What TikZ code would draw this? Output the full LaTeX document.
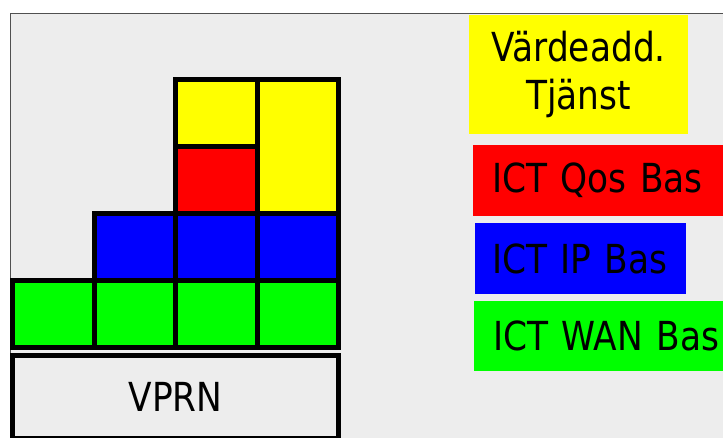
\documentclass[tikz,border=0pt]{standalone}
\usepackage{fontspec}
\setmainfont{DejaVu Sans}[FakeStretch=0.86]
\usetikzlibrary{positioning}
\definecolor{panelbg}{HTML}{EDEDED}
\definecolor{kant}{HTML}{505050}
\definecolor{gul}{HTML}{FFFF00}
\definecolor{rod}{HTML}{FF0000}
\definecolor{bla}{HTML}{0000FF}
\definecolor{gron}{HTML}{00FF00}
\tikzset{
  cell/.style={rectangle, draw=black, line width=5pt, fill=#1, outer sep=0pt, inner sep=0pt,
               minimum width=81.5pt, minimum height=67pt},
  legend/.style={rectangle, fill=#1, anchor=north west, inner xsep=19pt, inner ysep=0pt,
                 align=left, minimum height=71pt, font=\fontsize{40}{48}\selectfont},
}

\begin{document}
\begin{tikzpicture}[x=1pt, y=-1pt]
    \useasboundingbox (0,0) rectangle (723,437);
    \clip (0,0) rectangle (723,437);
    \draw[kant, fill=panelbg, line width=1pt] (10,13.5) rectangle (740,450);
    % stapeln
    \node[cell=gron] (g1) at (53.25,314.25) {};
    \node[cell=gron, right=0pt of g1] (g2) {};
    \node[cell=gron, right=0pt of g2] (g3) {};
    \node[cell=gron, right=0pt of g3] (g4) {};
    \node[cell=bla, above=0pt of g2] (b2) {};
    \node[cell=bla, above=0pt of g3] (b3) {};
    \node[cell=bla, above=0pt of g4] (b4) {};
    \node[cell=rod, above=0pt of b3] (r3) {};
    \node[cell=gul, above=0pt of r3] (y3) {};
    \node[cell=gul, above=0pt of b4, minimum height=134pt] (y4) {};
    \node[cell=panelbg, anchor=north west, minimum width=326pt, minimum height=83pt,
          font=\fontsize{40}{48}\selectfont] (vprn) at (12.5,355) {VPRN};
    % förklaring
    \node[legend=gul, inner xsep=0pt, text width=219pt, align=center, minimum height=119pt]
      (tjanst) at (469,15) {Värdeadd.\\Tjänst};
    \node[legend=rod, text width=230pt] (qos) at (473,145) {ICT Qos Bas};
    \node[legend=bla, inner xsep=17pt, text width=177pt] (ip) at (475,223) {ICT IP Bas};
    \node[legend=gron, minimum height=70pt, text width=230pt] (wan) at (474,301) {ICT WAN Bas};
  \end{tikzpicture}
\end{document}
